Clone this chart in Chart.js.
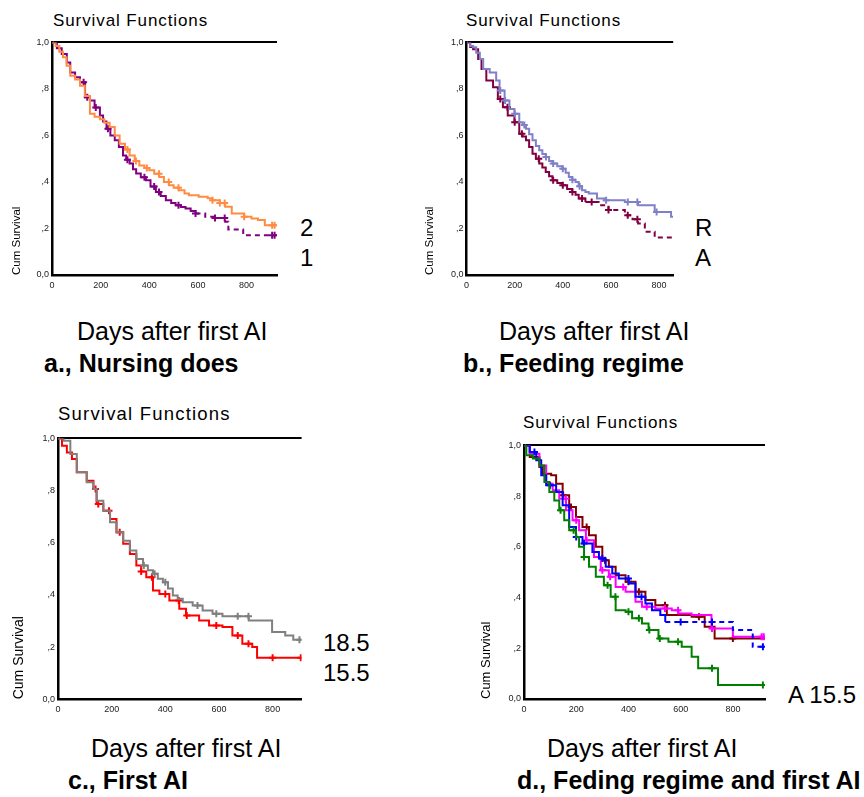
<!DOCTYPE html>
<html>
<head>
<meta charset="utf-8">
<script src="https://cdn.jsdelivr.net/npm/chart.js@4"></script>
<style>
  body { margin: 0; width: 864px; height: 797px; background: #fff; position: relative; overflow: hidden;
         font-family: "Liberation Sans", Arial, sans-serif; }
  .box { position: absolute; }
  .t { position: absolute; white-space: nowrap; line-height: 1; color: #000; }
  .ttl { letter-spacing: 0.9px; font-size: 17px; }
  .days { font-size: 25px; }
  .cap { font-size: 25px; font-weight: bold; }
  .grp { font-size: 24px; }
</style>
</head>
<body>

<div class="t ttl" style="left:53px;top:12px">Survival Functions</div>
<div class="t ttl" style="left:466px;top:12px">Survival Functions</div>
<div class="t ttl" style="left:58px;top:405px;font-size:18.5px;letter-spacing:1.2px">Survival Functions</div>
<div class="t ttl" style="left:523px;top:414px">Survival Functions</div>

<div class="box" id="boxA"><canvas id="chartA"></canvas></div>
<div class="box" id="boxB"><canvas id="chartB"></canvas></div>
<div class="box" id="boxC"><canvas id="chartC"></canvas></div>
<div class="box" id="boxD"><canvas id="chartD"></canvas></div>

<div class="t grp" style="left:300px;top:216px">2</div>
<div class="t grp" style="left:300px;top:246px">1</div>
<div class="t grp" style="left:695px;top:216px">R</div>
<div class="t grp" style="left:695px;top:246px">A</div>
<div class="t grp" style="left:323px;top:631px">18.5</div>
<div class="t grp" style="left:323px;top:661px">15.5</div>
<div class="t grp" style="left:788px;top:683px">A 15.5</div>

<div class="t days" style="left:77px;top:319px">Days after first AI</div>
<div class="t days" style="left:499px;top:319px">Days after first AI</div>
<div class="t days" style="left:91px;top:736px">Days after first AI</div>
<div class="t days" style="left:547px;top:736px">Days after first AI</div>

<div class="t cap" style="left:44px;top:351px">a., Nursing does</div>
<div class="t cap" style="left:463px;top:351px">b., Feeding regime</div>
<div class="t cap" style="left:68px;top:768px">c., First AI</div>
<div class="t cap" style="left:517px;top:768px">d., Feding regime and first AI</div>

<script>
// ---- a., Nursing does ----
const daysA2 = [0, 15, 30, 45, 60, 75, 95, 115, 135, 156, 175, 197, 215, 237, 258, 278, 300, 319, 340, 359, 380, 400, 420, 441, 460, 481, 500, 522, 545, 563, 603, 640, 658, 690, 712, 739, 790, 820, 847, 875, 925];
const survA2 = [1, .985, .96, .936, .9, .857, .84, .814, .77, .693, .68, .67, .655, .636, .6, .564, .54, .514, .49, .471, .46, .45, .435, .421, .40, .386, .375, .364, .35, .343, .336, .33, .321, .31, .293, .264, .25, .243, .236, .214, .214];
const censA2 = [310, 345, 390, 440, 480, 520, 660, 690, 710, 790, 905, 915];
const daysA1 = [0, 20, 40, 61, 75, 95, 115, 136, 156, 175, 197, 210, 224, 240, 258, 275, 292, 305, 319, 333, 346, 365, 386, 405, 427, 447, 468, 490, 508, 530, 549, 570, 590, 630, 670, 712, 725, 786, 925];
const survA1 = [1, .975, .95, .914, .871, .85, .829, .764, .75, .72, .686, .66, .629, .6, .579, .55, .514, .495, .479, .455, .436, .42, .407, .38, .357, .34, .321, .31, .3, .292, .286, .275, .264, .25, .245, .229, .196, .171, .171];
const censA1 = [130, 145, 180, 230, 310, 380, 420, 440, 520, 590, 670, 710, 905, 915];

// ---- b., Feeding regime ----
const daysBR = [0, 15, 27, 40, 55, 69, 96, 123, 137, 158, 178, 199, 219, 233, 247, 260, 274, 288, 302, 315, 329, 343, 357, 377, 398, 412, 425, 439, 453, 466, 480, 494, 508, 542, 576, 658, 713, 782, 850, 859];
const survBR = [1, .985, .979, .955, .929, .886, .871, .836, .793, .75, .714, .693, .657, .645, .629, .605, .579, .555, .536, .52, .507, .49, .479, .468, .457, .44, .421, .41, .4, .382, .364, .357, .35, .329, .321, .314, .3, .271, .25, .25];
const censBR = [140, 160, 200, 240, 330, 360, 400, 440, 470, 580, 670, 710, 790];
const daysBA = [0, 15, 27, 48, 62, 82, 110, 130, 151, 171, 199, 219, 233, 247, 260, 274, 288, 302, 315, 329, 343, 357, 377, 398, 418, 439, 453, 466, 494, 549, 590, 658, 690, 713, 741, 782, 859];
const survBA = [1, .98, .971, .929, .886, .836, .807, .757, .721, .686, .657, .607, .595, .579, .55, .521, .5, .479, .462, .443, .425, .407, .395, .386, .37, .357, .345, .329, .314, .3, .279, .257, .24, .221, .186, .161, .161];
const censBA = [140, 170, 200, 230, 300, 360, 400, 440, 480, 520, 590, 670, 710];

// ---- c., First AI ----
const daysC185 = [0, 21, 46, 70, 107, 132, 144, 169, 194, 218, 243, 268, 292, 317, 335, 354, 372, 391, 410, 428, 446, 465, 502, 539, 576, 613, 711, 798, 847, 877, 908];
const survC185 = [1, .991, .94, .87, .832, .806, .761, .723, .679, .64, .608, .57, .538, .513, .495, .481, .462, .449, .425, .398, .385, .372, .36, .34, .328, .318, .302, .258, .245, .228, .228];
const censC185 = [320, 360, 400, 520, 590, 670, 710, 900];
const daysC155 = [0, 15, 33, 52, 70, 107, 132, 144, 169, 194, 218, 243, 268, 292, 310, 329, 354, 378, 415, 452, 477, 526, 563, 613, 650, 687, 724, 742, 908];
const survC155 = [1, .972, .946, .921, .87, .838, .806, .749, .723, .691, .64, .596, .557, .513, .49, .468, .417, .404, .379, .347, .321, .302, .283, .277, .245, .213, .2, .159, .159];
const censC155 = [140, 150, 190, 230, 310, 350, 400, 450, 480, 590, 670, 710, 800, 905];

// ---- d., Feding regime and first AI ----
const daysDGreen = [0, 9, 34, 59, 78, 97, 116, 135, 154, 173, 199, 211, 230, 249, 275, 306, 332, 351, 389, 414, 452, 477, 515, 553, 604, 642, 667, 743, 923];
const survDGreen = [1, .961, .948, .921, .856, .816, .783, .744, .705, .665, .639, .6, .56, .521, .482, .449, .403, .35, .344, .318, .298, .272, .239, .226, .206, .167, .121, .055, .055];
const censDGreen = [140, 190, 230, 320, 350, 400, 440, 480, 520, 590, 720, 915];
const daysDBlue = [0, 22, 47, 66, 85, 123, 148, 173, 199, 224, 262, 287, 313, 338, 363, 401, 427, 465, 490, 522, 541, 800, 876, 923];
const survDBlue = [1, .974, .941, .882, .843, .816, .764, .678, .639, .613, .58, .554, .521, .495, .475, .455, .403, .377, .35, .331, .304, .272, .206, .206];
const censDBlue = [40, 100, 200, 230, 300, 400, 450, 600, 720, 915];
const daysDMag = [0, 22, 59, 85, 110, 135, 161, 186, 211, 237, 268, 294, 325, 351, 389, 427, 452, 503, 566, 591, 642, 718, 800, 923];
const survDMag = [1, .967, .921, .849, .823, .79, .744, .705, .665, .626, .56, .508, .482, .442, .423, .383, .364, .357, .35, .337, .331, .278, .245, .245];
const censDMag = [160, 200, 240, 300, 330, 380, 470, 540, 590, 720, 910, 918];
const daysDBrown = [0, 22, 59, 72, 104, 123, 148, 173, 199, 224, 249, 275, 300, 325, 351, 389, 427, 465, 503, 547, 642, 692, 730, 923];
const survDBrown = [1, .954, .915, .888, .882, .849, .803, .757, .718, .678, .646, .6, .547, .521, .488, .462, .423, .39, .37, .331, .324, .285, .239, .239];
const censDBrown = [150, 180, 240, 310, 400, 440, 540, 670, 800];

const yTickLabels = ['0,0', ',2', ',4', ',6', ',8', '1,0'];

function survAt(days, surv, t) {
  let v = surv[0];
  days.forEach((d, i) => { if (d <= t) v = surv[i]; });
  return v;
}

function series(days, surv, cens, color, dashFrom) {
  return [
    {
      type: 'line',
      data: days.map((d, i) => ({ x: d, y: surv[i] })),
      stepped: true,
      borderColor: color,
      borderWidth: 2,
      pointRadius: 0,
      fill: false,
      segment: {
        borderDash: ctx => (dashFrom != null && ctx.p0.parsed.x >= dashFrom) ? [5, 4] : undefined,
      },
    },
    {
      type: 'scatter',
      data: cens.map(d => ({ x: d, y: survAt(days, surv, d) })),
      pointStyle: 'cross',
      pointRadius: 3.5,
      borderColor: color,
      borderWidth: 2,
    },
  ];
}

function panel(id, box, xMax, yAxisWidth, titleSize, datasets) {
  const padTop = 8, padRight = 4, xAxisHeight = 20;
  const el = document.getElementById(box.id);
  el.style.left = (box.left - yAxisWidth) + 'px';
  el.style.top = (box.top - padTop) + 'px';
  el.style.width = (yAxisWidth + box.right - box.left + padRight) + 'px';
  el.style.height = (padTop + box.bottom - box.top + xAxisHeight) + 'px';
  new Chart(document.getElementById(id), {
    data: { datasets: datasets.flat() },
    options: {
      responsive: true,
      maintainAspectRatio: false,
      animation: false,
      layout: { padding: { top: padTop, right: padRight, left: 0, bottom: 0 } },
      plugins: { legend: { display: false }, tooltip: { enabled: false } },
      scales: {
        x: {
          type: 'linear',
          min: 0,
          max: xMax,
          afterFit: s => { s.height = xAxisHeight; },
          border: { display: true, color: '#000', width: 2.5 },
          grid: { display: false, drawTicks: false },
          ticks: {
            stepSize: 200,
            includeBounds: false,
            maxRotation: 0,
            padding: 5,
            color: '#222',
            font: { family: 'Liberation Sans', size: 9 },
          },
        },
        y: {
          min: 0,
          max: 1,
          afterFit: s => { s.width = yAxisWidth; },
          border: { display: true, color: '#000', width: 2.5 },
          grid: {
            drawTicks: false,
            color: c => c.tick && c.tick.value === 1 ? '#000' : 'rgba(0,0,0,0)',
            lineWidth: 2,
          },
          ticks: {
            stepSize: 0.2,
            padding: 3,
            color: '#222',
            font: { family: 'Liberation Sans', size: 9 },
            callback: v => yTickLabels[Math.round(v * 5)],
          },
          title: {
            display: true,
            text: 'Cum Survival',
            align: 'start',
            color: '#000',
            padding: 0,
            font: { family: 'Liberation Sans', size: titleSize },
          },
        },
      },
    },
  });
}

panel('chartA', { id: 'boxA', left: 52, right: 279, top: 42, bottom: 275 }, 925, 42, 11.5, [
  series(daysA2, survA2, censA2, '#ff8c42'),
  series(daysA1, survA1, censA1, '#800080', 590),
]);
panel('chartB', { id: 'boxB', left: 466.7, right: 675.3, top: 42, bottom: 275 }, 859, 43.6, 11.5, [
  series(daysBR, survBR, censBR, '#8080c8'),
  series(daysBA, survBA, censBA, '#800040', 490),
]);
panel('chartC', { id: 'boxC', left: 57.7, right: 303.3, top: 437.7, bottom: 699 }, 908, 47, 14, [
  series(daysC185, survC185, censC185, '#808080'),
  series(daysC155, survC155, censC155, '#ff0000'),
]);
panel('chartD', { id: 'boxD', left: 524.3, right: 767.3, top: 445, bottom: 699 }, 923, 45, 13, [
  series(daysDGreen, survDGreen, censDGreen, '#008000'),
  series(daysDBlue, survDBlue, censDBlue, '#0000ff', 541),
  series(daysDMag, survDMag, censDMag, '#ff00ff'),
  series(daysDBrown, survDBrown, censDBrown, '#800000'),
]);
</script>
</body>
</html>
